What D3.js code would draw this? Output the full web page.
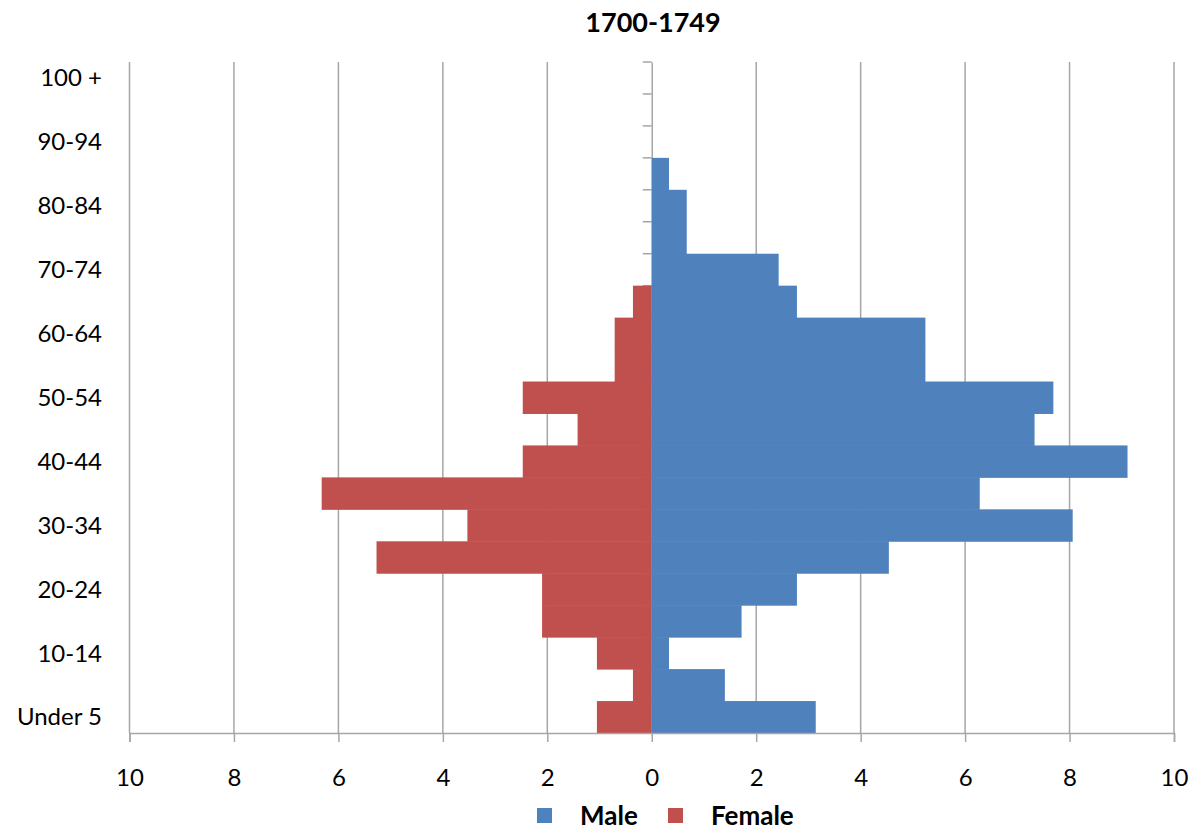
<!DOCTYPE html>
<html>
<head>
<meta charset="utf-8">
<script src="https://cdn.jsdelivr.net/npm/d3@7"></script>
<style>
  body { margin: 0; background: #fff; }
  text { font-family: Lato, "Open Sans", sans-serif; fill: #000; }
</style>
</head>
<body>
<div id="chart"></div>
<script>

const title = '1700-1749'

const ageGroups = ['Under 5', '5-9', '10-14', '15-19', '20-24', '25-29', '30-34', '35-39',
    '40-44', '45-49', '50-54', '55-59', '60-64', '65-69', '70-74', '75-79', '80-84',
    '85-89', '90-94', '95-99', '100 +']

const male = [3.14, 1.40, 0.33, 1.72, 2.78, 4.54, 8.06, 6.28, 9.11, 7.33, 7.69, 5.24,
    5.24, 2.78, 2.43, 0.67, 0.67, 0.33, 0, 0, 0]

const female = [1.05, 0.36, 1.05, 2.10, 2.10, 5.27, 3.53, 6.32, 2.47, 1.42, 2.47, 0.71,
    0.71, 0.36, 0, 0, 0, 0, 0, 0, 0]

const xTicks = [-10, -8, -6, -4, -2, 0, 2, 4, 6, 8, 10]

const width = 1198
const height = 831
const plotLeft = 129.5, plotRight = 1174, plotTop = 62, plotBottom = 733

const svg = d3.select('#chart')
    .append('svg')
    .attr('width', width)
    .attr('height', height)

let xScale = d3.scaleLinear()
    .domain([-10, 10])
    .range([plotLeft, plotRight])

let yScale = d3.scaleBand()
    .domain(ageGroups)
    .range([plotBottom, plotTop])
    .padding(0)

// gridlines
svg.append('g')
    .selectAll('line')
    .data(xTicks.filter(d => d !== 0))
    .enter()
    .append('line')
    .attr('x1', d => xScale(d))
    .attr('x2', d => xScale(d))
    .attr('y1', plotTop)
    .attr('y2', plotBottom)
    .attr('stroke', '#a6a6a6')
    .attr('stroke-width', 1.5)

// category axis at zero (drawn under the bars)
let yAxis = d3.axisLeft(yScale)
    .tickSize(0)
    .tickFormat('')

const gy = svg.append('g')
    .attr('transform', 'translate(' + xScale(0) + ', 0)')
    .call(yAxis)
gy.select('.domain').attr('stroke', '#a6a6a6').attr('stroke-width', 1.5)

// band boundary ticks
gy.selectAll('.bound')
    .data(ageGroups)
    .enter()
    .append('line')
    .attr('x1', -9)
    .attr('x2', 0)
    .attr('y1', d => yScale(d))
    .attr('y2', d => yScale(d))
    .attr('stroke', '#a6a6a6')
    .attr('stroke-width', 1.5)

// bars
svg.append('g')
    .selectAll('rect')
    .data(male.map((v, i) => [ageGroups[i], v]).filter(d => d[1] > 0))
    .enter()
    .append('rect')
    .attr('x', xScale(0))
    .attr('y', d => yScale(d[0]))
    .attr('width', d => xScale(d[1]) - xScale(0))
    .attr('height', yScale.bandwidth() + 0.5)
    .attr('fill', '#4f81bd')

svg.append('g')
    .selectAll('rect')
    .data(female.map((v, i) => [ageGroups[i], v]).filter(d => d[1] > 0))
    .enter()
    .append('rect')
    .attr('x', d => xScale(-d[1]))
    .attr('y', d => yScale(d[0]))
    .attr('width', d => xScale(0) - xScale(-d[1]))
    .attr('height', yScale.bandwidth() + 0.5)
    .attr('fill', '#c0504d')

// x axis
let xAxis = d3.axisBottom(xScale)
    .tickValues(xTicks)
    .tickFormat(d => Math.abs(d))
    .tickSize(9)
    .tickPadding(27)

const gx = svg.append('g')
    .attr('transform', 'translate(0, ' + plotBottom + ')')
    .call(xAxis)
gx.select('.domain').attr('stroke', '#a6a6a6').attr('stroke-width', 1.5)
gx.selectAll('.tick line').attr('stroke', '#a6a6a6').attr('stroke-width', 1.5)
gx.selectAll('.tick text').attr('font-size', 24).attr('fill', '#000')

// category labels (every other)
svg.append('g')
    .selectAll('text')
    .data(ageGroups.filter((d, i) => i % 2 === 0))
    .enter()
    .append('text')
    .attr('x', 102)
    .attr('y', d => yScale(d) + yScale.bandwidth() / 2)
    .attr('dy', '0.35em')
    .attr('text-anchor', 'end')
    .attr('font-size', 24)
    .text(d => d)

// title
svg.append('text')
    .attr('x', 653)
    .attr('y', 32)
    .attr('text-anchor', 'middle')
    .attr('font-size', 27)
    .attr('font-weight', 'bold')
    .text(title)

// legend
const legend = [['Male', '#4f81bd', 537], ['Female', '#c0504d', 668]]
const lg = svg.append('g')
lg.selectAll('rect')
    .data(legend)
    .enter()
    .append('rect')
    .attr('x', d => d[2])
    .attr('y', 808)
    .attr('width', 15)
    .attr('height', 15)
    .attr('fill', d => d[1])
lg.selectAll('text')
    .data(legend)
    .enter()
    .append('text')
    .attr('x', d => d[2] + 43)
    .attr('y', 816)
    .attr('dy', '0.35em')
    .attr('font-size', 26)
    .attr('font-weight', 'bold')
    .text(d => d[0])

</script>
</body>
</html>
